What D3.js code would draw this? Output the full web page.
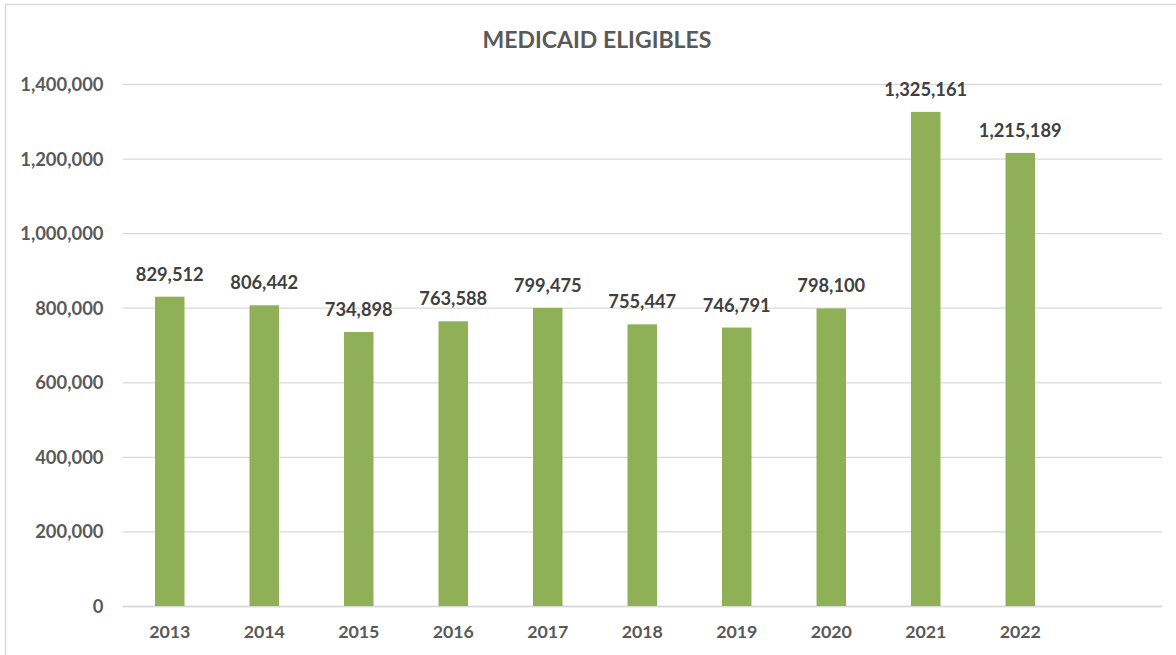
<!DOCTYPE html>
<html><head><meta charset="utf-8">
<script src="https://cdn.jsdelivr.net/npm/d3@7"></script>
<style>body{margin:0;background:#fff;} svg{display:block;}</style>
</head><body>
<svg id="c" width="1176" height="655"></svg>
<script>
const categories = ["2013","2014","2015","2016","2017","2018","2019","2020","2021","2022"];
const values = [829512,806442,734898,763588,799475,755447,746791,798100,1325161,1215189];
const yTicks = [0,200000,400000,600000,800000,1000000,1200000,1400000];
const title = "MEDICAID ELIGIBLES";

(function(){
const svg = d3.select("#c");
const font = "Lato, 'Open Sans', sans-serif";
svg.append("rect").attr("x",5.5).attr("y",4.5).attr("width",1180).attr("height",660)
  .attr("fill","#fff").attr("stroke","#d9d9d9").attr("stroke-width",1.5);

const pl = 122.5, pr = 1162, pt = 84, pb = 606;
const x = d3.scaleBand().domain(categories.concat([""])).range([pl,pr]).paddingInner(0.688).paddingOuter(0.344);
const y = d3.scaleLinear().domain([0,1400000]).range([pb,pt]);

const yAxis = d3.axisLeft(y).tickValues(yTicks).tickSize(-(pr-pl)).tickFormat(d3.format(","));
const gy = svg.append("g").attr("transform",`translate(${pl},0)`).call(yAxis);
gy.select(".domain").remove();
gy.selectAll(".tick line").attr("stroke","#d9d9d9").attr("stroke-width",1.3);
gy.selectAll(".tick text").attr("x",-19).attr("dy","0.35em").attr("fill","#595959")
  .style("font-family",font).style("font-weight","bold").style("font-size","18.4px");

const xAxis = d3.axisBottom(x).tickSize(0).tickFormat(d=>d);
const gx = svg.append("g").attr("transform",`translate(0,${pb})`).call(xAxis);
gx.select(".domain").attr("stroke","#d9d9d9").attr("stroke-width",1.5);
gx.selectAll(".tick text").attr("y",19).attr("dy","0.71em").attr("fill","#595959")
  .style("font-family",font).style("font-weight","bold").style("font-size","17.8px");

const data = categories.map((c,i)=>({c, v: values[i]}));
svg.append("g").selectAll("rect").data(data).join("rect")
  .attr("x",d=>x(d.c)).attr("width",x.bandwidth())
  .attr("y",d=>y(d.v)).attr("height",d=>pb-y(d.v))
  .attr("fill","#8fb056");

svg.append("g").selectAll("text").data(data).join("text")
  .attr("x",d=>x(d.c)+x.bandwidth()/2).attr("y",d=>y(d.v)-16)
  .attr("text-anchor","middle").attr("fill","#404040")
  .style("font-family",font).style("font-weight","bold").style("font-size","18.3px")
  .text(d=>d3.format(",")(d.v));

svg.append("text").attr("x",597).attr("y",48).attr("text-anchor","middle")
  .attr("fill","#595959").style("font-family",font).style("font-weight","bold").style("font-size","23px")
  .text(title);
})();
</script>
</body></html>
